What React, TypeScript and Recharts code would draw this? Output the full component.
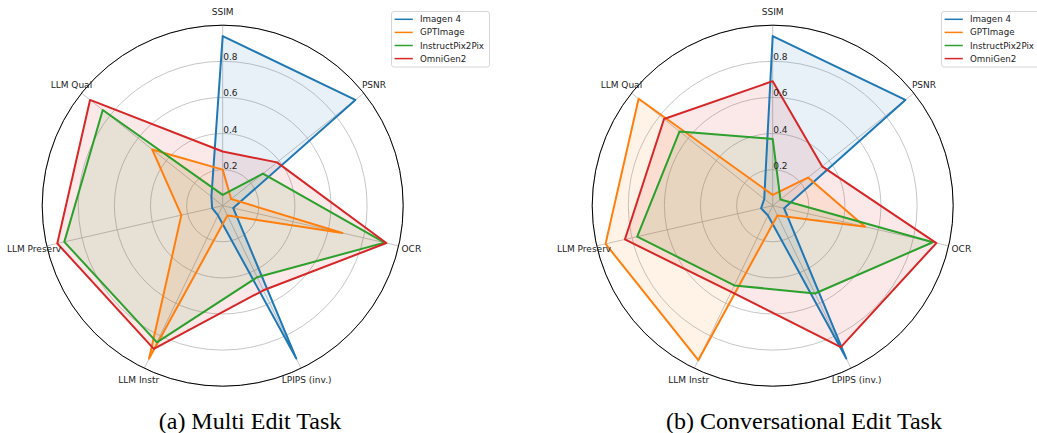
import React from 'react'
import {
  RadarChart,
  Radar,
  PolarGrid,
  PolarAngleAxis,
  PolarRadiusAxis,
  Legend,
} from 'recharts'

// axes, clockwise from the top
const METRICS = ['SSIM', 'PSNR', 'OCR', 'LPIPS (inv.)', 'LLM Instr', 'LLM Preserv', 'LLM Qual']

const SERIES_NAMES = ['Imagen 4', 'GPTImage', 'InstructPix2Pix', 'OmniGen2']
const SERIES_COLORS = ['#1f77b4', '#ff7f0e', '#2ca02c', '#d62728']

// (a) Multi Edit Task
const MULTI_IMAGEN4 = [0.94, 0.94, 0.06, 0.94, 0.06, 0.06, 0.08]
const MULTI_GPTIMAGE = [0.2, 0.06, 0.68, 0.06, 0.94, 0.235, 0.5]
const MULTI_IP2P = [0.06, 0.285, 0.92, 0.44, 0.84, 0.9, 0.85]
const MULTI_OMNIGEN2 = [0.3, 0.385, 0.93, 0.52, 0.88, 0.94, 0.94]

// (b) Conversational Edit Task
const CONV_IMAGEN4 = [0.94, 0.94, 0.065, 0.94, 0.06, 0.066, 0.06]
const CONV_GPTIMAGE = [0.06, 0.25, 0.525, 0.06, 0.95, 0.95, 0.95]
const CONV_IP2P = [0.37, 0.055, 0.91, 0.54, 0.49, 0.77, 0.66]
const CONV_OMNIGEN2 = [0.69, 0.35, 0.93, 0.87, 0.53, 0.84, 0.77]

const RADIAL_DOMAIN: [number, number] = [0, 1]
const RADIAL_TICKS = [0, 0.2, 0.4, 0.6, 0.8, 1]

const CAPTIONS = ['(a) Multi Edit Task', '(b) Conversational Edit Task']

const CX = 222.7
const CY = 205.7
const R = 180.5
const LABEL_R = 193.5
const FONT = '"DejaVu Sans", sans-serif'

function buildRows(series: number[][]) {
  return METRICS.map((metric, i) => {
    const row: Record<string, number | string> = { metric }
    series.forEach((vals, k) => {
      row['s' + k] = vals[i]
    })
    return row
  })
}

const multiData = buildRows([MULTI_IMAGEN4, MULTI_GPTIMAGE, MULTI_IP2P, MULTI_OMNIGEN2])
const convData = buildRows([CONV_IMAGEN4, CONV_GPTIMAGE, CONV_IP2P, CONV_OMNIGEN2])

// ring radii for the grid, from the linear 0..1 radial scale
const ringRadii = RADIAL_TICKS.map((v) => ((v - RADIAL_DOMAIN[0]) / (RADIAL_DOMAIN[1] - RADIAL_DOMAIN[0])) * R)

function AngleTick(props: any) {
  const rad = (props.payload.coordinate * Math.PI) / 180
  const x = CX + LABEL_R * Math.cos(rad)
  const y = CY - LABEL_R * Math.sin(rad)
  return (
    <text
      x={x}
      y={y}
      textAnchor="middle"
      dominantBaseline="central"
      fontSize={9}
      fontFamily={FONT}
      fill="#222"
    >
      {props.payload.value}
    </text>
  )
}

function RadiusTick(props: any) {
  const v = Number(props.payload && props.payload.value)
  if (!(v > 0.001 && v < 0.999)) return <g />
  return (
    <text x={props.x + 0.5} y={props.y - 1} fontSize={9} fontFamily={FONT} fill="#222" textAnchor="start">
      {v.toFixed(1)}
    </text>
  )
}

function LegendBox() {
  return (
    <svg width={100} height={57}>
      <rect x={0.5} y={0.5} width={98} height={55.5} rx={2.5} fill="#fff" fillOpacity={0.8} stroke="#d5d5d5" />
      {SERIES_NAMES.map((name, k) => {
        const y = 8.3 + k * 13.1
        return (
          <g key={name}>
            <line x1={3.6} x2={21.8} y1={y} y2={y} stroke={SERIES_COLORS[k]} strokeWidth={1.5} />
            <text x={29} y={y} dominantBaseline="central" fontSize={8.7} fontFamily={FONT} fill="#222">
              {name}
            </text>
          </g>
        )
      })}
    </svg>
  )
}

function Panel({ data }: { data: Record<string, number | string>[] }) {
  return (
    <RadarChart
      width={550}
      height={400}
      data={data}
      cx={CX}
      cy={CY}
      outerRadius={R}
      startAngle={90}
      endAngle={-270}
      margin={{ top: 0, right: 0, bottom: 0, left: 0 }}
    >
      <PolarGrid gridType="circle" polarRadius={ringRadii} stroke="#b8b8b8" strokeWidth={0.8} />
      <PolarRadiusAxis
        angle={90}
        type="number"
        scale="linear"
        domain={RADIAL_DOMAIN}
        ticks={RADIAL_TICKS}
        tickCount={6}
        axisLine={false}
        tickLine={false}
        tick={RadiusTick}
      />
      <PolarAngleAxis
        dataKey="metric"
        axisLineType="circle"
        axisLine={{ stroke: '#000', strokeWidth: 1 }}
        tickLine={false}
        tick={AngleTick}
      />
      {SERIES_NAMES.map((name, k) => (
        <Radar
          key={'fill' + k}
          dataKey={'s' + k}
          stroke="none"
          fill={SERIES_COLORS[k]}
          fillOpacity={0.1}
          dot={false}
          legendType="none"
          isAnimationActive={false}
        />
      ))}
      {SERIES_NAMES.map((name, k) => (
        <Radar
          key={'line' + k}
          name={name}
          dataKey={'s' + k}
          stroke={SERIES_COLORS[k]}
          strokeWidth={2}
          strokeLinejoin="round"
          fill="none"
          fillOpacity={0}
          dot={false}
          isAnimationActive={false}
        />
      ))}
      <Legend
        content={() => <LegendBox />}
        wrapperStyle={{ position: 'absolute', left: 391, top: 11, width: 100, height: 57 }}
      />
    </RadarChart>
  )
}

export default function App() {
  return (
    <div
      style={{
        position: 'fixed',
        left: 0,
        top: 0,
        width: 1037,
        height: 433,
        background: '#fff',
        overflow: 'hidden',
      }}
    >
      <div style={{ position: 'absolute', left: 0, top: 0 }}>
        <Panel data={multiData} />
      </div>
      <div style={{ position: 'absolute', left: 550, top: 0 }}>
        <Panel data={convData} />
      </div>
      <svg width={1037} height={433} style={{ position: 'absolute', left: 0, top: 0, pointerEvents: 'none' }}>
        <text x={250} y={428.5} textAnchor="middle" fontSize={24} fontFamily='"Liberation Serif", serif' fill="#000">
          {CAPTIONS[0]}
        </text>
        <text x={804} y={428.5} textAnchor="middle" fontSize={24} fontFamily='"Liberation Serif", serif' fill="#000">
          {CAPTIONS[1]}
        </text>
      </svg>
    </div>
  )
}
